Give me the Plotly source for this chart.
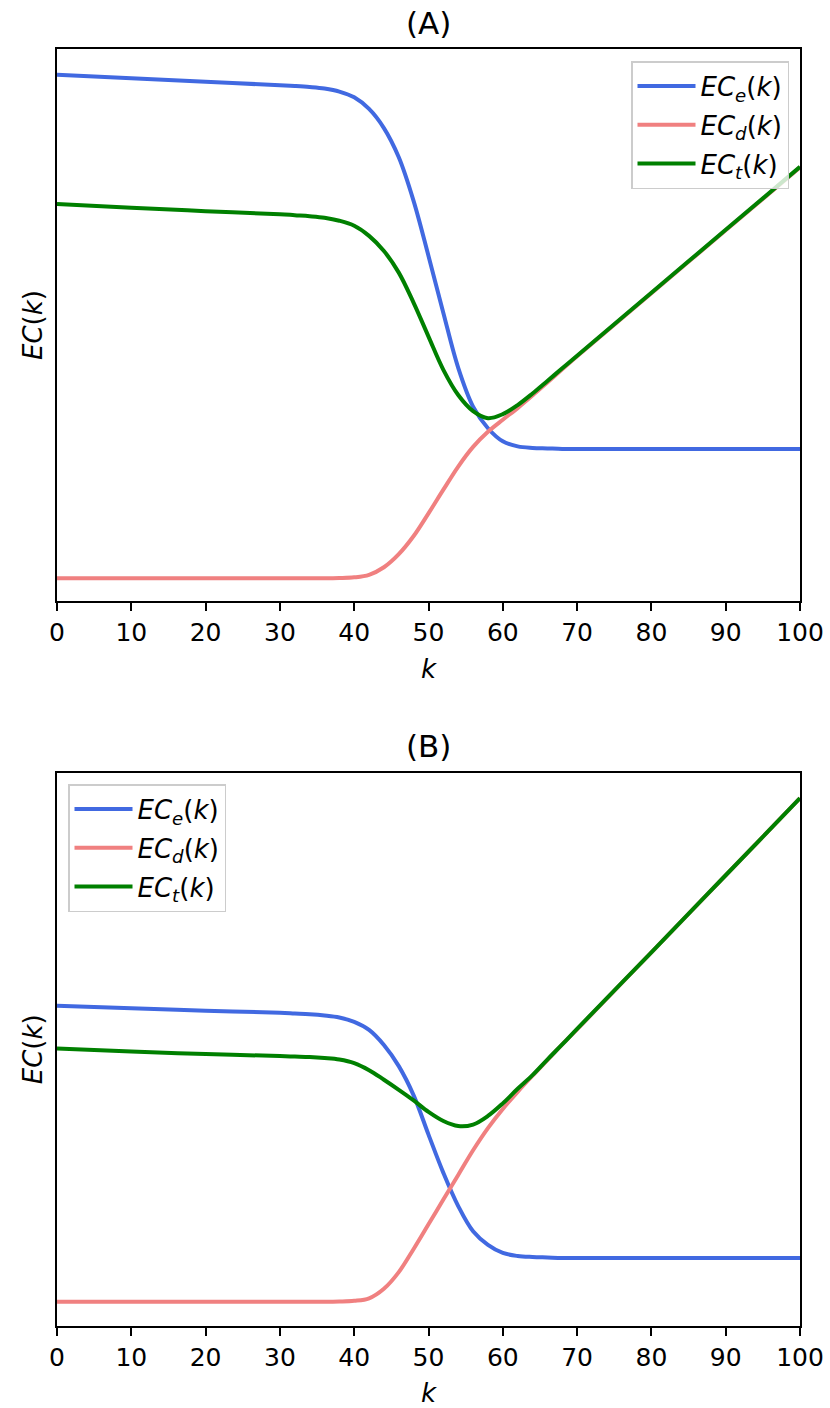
import plotly.graph_objects as go

# ---------------- Data ----------------
k_grid = [0, 10, 20, 30, 32, 34, 36, 38, 40, 42, 44, 46, 48, 50, 52, 54, 56, 58, 60,
          62, 64, 66, 68, 70, 80, 90, 100]

# Panel (A)
ece_A = [100.0, 99.3, 98.6, 97.9, 97.75, 97.55, 97.25, 96.65, 95.5, 93.2, 89.4, 83.6, 74.9, 64.0,
         52.7, 41.8, 34.1, 29.8, 27.2, 26.2, 25.9, 25.8, 25.7, 25.7, 25.7, 25.7, 25.7]
ecd_A = [0.0, 0.0, 0.0, 0.0, 0.0, 0.0, 0.0, 0.05, 0.2, 0.7, 2.2, 4.8, 8.4, 12.9,
         17.6, 22.2, 26.1, 29.1, 31.5, 33.8, 36.3, 38.9, 41.5, 44.1, 56.6, 69.1, 81.6]
ect_A = [74.3, 73.6, 72.9, 72.3, 72.1, 71.9, 71.6, 71.0, 70.0, 68.0, 65.0, 60.7, 54.7, 48.0,
         41.4, 36.4, 33.2, 31.8, 32.6, 34.4, 36.7, 39.2, 41.7, 44.2, 56.7, 69.2, 81.7]

# Panel (B)
ece_B = [58.8, 58.3, 57.8, 57.4, 57.25, 57.1, 56.85, 56.45, 55.6, 54.0, 51.0, 46.8, 41.0, 33.2,
         25.6, 19.0, 14.0, 11.3, 9.7, 9.1, 8.9, 8.8, 8.7, 8.7, 8.7, 8.7, 8.7]
ecd_B = [0.0, 0.0, 0.0, 0.0, 0.0, 0.0, 0.0, 0.05, 0.2, 0.7, 2.6, 5.9, 10.5, 15.4,
         20.3, 25.2, 30.1, 34.5, 38.3, 41.7, 44.9, 48.0, 51.1, 54.1, 69.4, 84.7, 100.0]
ect_B = [50.3, 49.7, 49.2, 48.8, 48.7, 48.6, 48.4, 48.1, 47.4, 46.0, 44.1, 42.1, 40.0, 37.7,
         35.9, 34.9, 35.2, 36.9, 39.4, 42.3, 45.0, 48.1, 51.1, 54.2, 69.4, 84.7, 100.0]

x_ticks = [0, 10, 20, 30, 40, 50, 60, 70, 80, 90, 100]
names = ["<i>EC</i><sub><i>e</i></sub>(<i>k</i>)",
         "<i>EC</i><sub><i>d</i></sub>(<i>k</i>)",
         "<i>EC</i><sub><i>t</i></sub>(<i>k</i>)"]
colors = ["#4169E1", "#F08080", "#008000"]

FONT = "DejaVu Sans"
W, H = 830, 1408

fig = go.Figure()

panels = [
    ("x", "y", "legend", [ece_A, ecd_A, ect_A]),
    ("x2", "y2", "legend2", [ece_B, ecd_B, ect_B]),
]
for xa, ya, lg, series in panels:
    for i, (vals, nm, col) in enumerate(zip(series, names, colors)):
        fig.add_trace(go.Scatter(
            x=k_grid, y=vals, mode="lines", name=nm,
            line=dict(color=col, width=4, shape="spline", smoothing=1.0),
            xaxis=xa, yaxis=ya, legend=lg, legendgroup=f"{lg}_{i}",
            showlegend=True,
        ))

xdom = [57 / W, 800 / W]
ydomA = [1 - 601 / H, 1 - 49 / H]
ydomB = [1 - 1326 / H, 1 - 772.5 / H]

common_x = dict(
    range=[0, 100], tickvals=x_ticks, ticks="outside", ticklen=8, tickwidth=1.5,
    tickcolor="black", showline=True, linecolor="black", linewidth=1.5, mirror=True,
    showgrid=False, zeroline=False, automargin=False,
    tickfont=dict(family=FONT, size=25, color="black"),
    title=dict(text="<i>k</i>", font=dict(family=FONT, size=26, color="black"), standoff=14),
)
common_y = dict(
    showticklabels=False, ticks="", showline=True, linecolor="black", linewidth=1.5,
    mirror=True, showgrid=False, zeroline=False, automargin=False,
    title=dict(text="<i>EC</i>(<i>k</i>)", font=dict(family=FONT, size=26, color="black"), standoff=5),
)

legend_common = dict(
    font=dict(family=FONT, size=26, color="black"),
    bgcolor="rgba(255,255,255,0.8)", bordercolor="#cccccc", borderwidth=1.5,
    tracegroupgap=2, itemwidth=58,
)

fig.update_layout(
    width=W, height=H, autosize=False,
    margin=dict(l=0, r=0, t=0, b=0, pad=0, autoexpand=False),
    paper_bgcolor="white", plot_bgcolor="white",
    xaxis=dict(domain=xdom, anchor="y", **common_x),
    yaxis=dict(domain=ydomA, anchor="x", range=[-4.5, 105.1], **common_y),
    xaxis2=dict(domain=xdom, anchor="y2", **common_x),
    yaxis2=dict(domain=ydomB, anchor="x2", range=[-4.8, 105.1], **common_y),
    legend=dict(x=789 / W, y=1 - 61 / H, xanchor="right", yanchor="top", **legend_common),
    legend2=dict(x=68 / W, y=1 - 784 / H, xanchor="left", yanchor="top", **legend_common),
    annotations=[
        dict(text="(A)", x=(57 + 800) / 2 / W, y=1 - 23 / H, xref="paper", yref="paper",
             showarrow=False, font=dict(family=FONT, size=31, color="black"), yanchor="middle"),
        dict(text="(B)", x=(57 + 800) / 2 / W, y=1 - 746 / H, xref="paper", yref="paper",
             showarrow=False, font=dict(family=FONT, size=31, color="black"), yanchor="middle"),
    ],
)

fig.write_html("out.html", config={"responsive": False})
